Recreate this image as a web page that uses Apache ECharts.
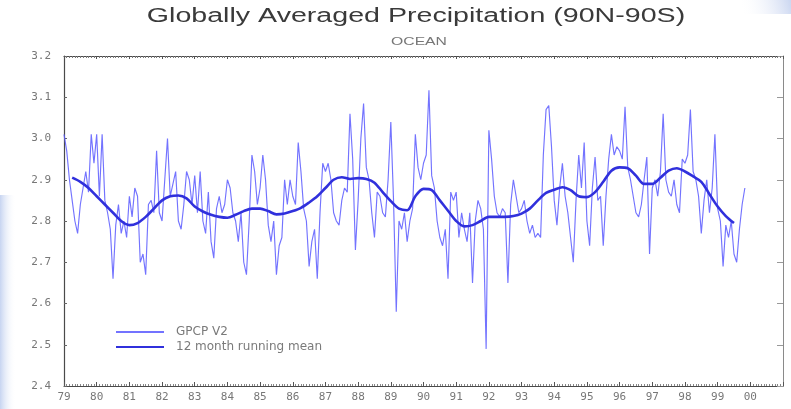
<!DOCTYPE html>
<html>
<head>
<meta charset="utf-8">
<script src="https://cdn.jsdelivr.net/npm/echarts@6/dist/echarts.min.js"></script>
<style>
html,body{margin:0;padding:0;background:#fff;}
#chart{width:791px;height:409px;}
</style>
</head>
<body>
<div id="chart"></div>
<script>
// ---- data ----
const titleText = 'Globally Averaged Precipitation (90N-90S)';
const subtitleText = 'OCEAN';
const seriesNames = ['GPCP V2', '12 month running mean'];

// x-axis tick labels (years)
const yearTicks = [1979,1980,1981,1982,1983,1984,1985,1986,1987,1988,1989,1990,1991,1992,1993,1994,1995,1996,1997,1998,1999,2000];
const yearLabels = ['79','80','81','82','83','84','85','86','87','88','89','90','91','92','93','94','95','96','97','98','99','00'];

// monthly GPCP V2 ocean precipitation (mm/day), starting Jan 1979
const rawStart = 1979;
const raw1979 = [3.01,2.97,2.90,2.85,2.80,2.77,2.84,2.88,2.92,2.87,3.01,2.94];
const raw1980 = [3.01,2.86,3.01,2.85,2.82,2.78,2.66,2.79,2.84,2.77,2.80,2.76];
const raw1981 = [2.86,2.81,2.88,2.86,2.70,2.72,2.67,2.84,2.85,2.82,2.97,2.82];
const raw1982 = [2.80,2.90,3.00,2.86,2.89,2.92,2.80,2.78,2.84,2.92,2.90,2.84];
const raw1983 = [2.91,2.82,2.92,2.80,2.77,2.87,2.75,2.71,2.83,2.86,2.82,2.84];
const raw1984 = [2.90,2.88,2.82,2.80,2.75,2.82,2.70,2.67,2.80,2.96,2.92,2.84];
const raw1985 = [2.88,2.96,2.90,2.79,2.75,2.80,2.67,2.74,2.76,2.90,2.84,2.90];
const raw1986 = [2.86,2.84,2.99,2.92,2.83,2.80,2.69,2.75,2.78,2.66,2.82,2.94];
const raw1987 = [2.92,2.94,2.90,2.82,2.80,2.79,2.85,2.88,2.87,3.06,2.95,2.73];
const raw1988 = [2.85,3.00,3.085,2.93,2.90,2.82,2.76,2.87,2.86,2.82,2.81,2.90];
const raw1989 = [3.04,2.85,2.58,2.80,2.78,2.82,2.75,2.80,2.83,3.01,2.93,2.90];
const raw1990 = [2.94,2.96,3.117,2.91,2.88,2.80,2.76,2.74,2.78,2.66,2.87,2.85];
const raw1991 = [2.87,2.76,2.82,2.78,2.75,2.82,2.65,2.80,2.85,2.83,2.78,2.49];
const raw1992 = [3.02,2.95,2.86,2.82,2.81,2.83,2.82,2.65,2.84,2.90,2.86,2.82];
const raw1993 = [2.83,2.85,2.80,2.77,2.79,2.76,2.77,2.76,2.96,3.07,3.08,2.98];
const raw1994 = [2.85,2.79,2.88,2.94,2.86,2.82,2.76,2.70,2.85,2.96,2.88,2.99];
const raw1995 = [2.80,2.74,2.88,2.955,2.85,2.86,2.74,2.86,2.95,3.01,2.96,2.98];
const raw1996 = [2.97,2.95,3.077,2.93,2.90,2.86,2.82,2.81,2.84,2.90,2.955,2.72];
const raw1997 = [2.88,2.90,2.86,2.92,3.06,2.90,2.87,2.86,2.90,2.84,2.82,2.95];
const raw1998 = [2.94,2.96,3.07,2.92,2.90,2.86,2.77,2.85,2.90,2.82,2.88,3.01];
const raw1999 = [2.83,2.80,2.69,2.79,2.76,2.80,2.72,2.70,2.78,2.84,2.88];

// 12-month running mean, read at quarterly steps starting Apr 1979
const meanStart = 1979.25;
const meanStep = 0.25;
const meanValues = [
 2.905,2.895,2.88,2.86,2.84,2.82,2.80,2.79,2.795,2.81,2.83,2.85,
 2.86,2.862,2.855,2.835,2.823,2.815,2.81,2.808,2.815,2.824,2.83,2.83,
 2.824,2.816,2.818,2.824,2.832,2.845,2.86,2.88,2.90,2.906,2.902,2.904,
 2.902,2.893,2.87,2.848,2.83,2.826,2.86,2.878,2.875,2.85,2.825,2.80,
 2.787,2.79,2.80,2.81,2.81,2.81,2.812,2.818,2.83,2.85,2.868,2.876,
 2.882,2.875,2.86,2.858,2.87,2.895,2.922,2.93,2.928,2.91,2.89,2.89,
 2.905,2.922,2.928,2.92,2.908,2.895,2.865,2.835,2.812,2.795
];

// ---- build series data ----
const rawValues = [].concat(raw1979,raw1980,raw1981,raw1982,raw1983,raw1984,raw1985,raw1986,
  raw1987,raw1988,raw1989,raw1990,raw1991,raw1992,raw1993,raw1994,raw1995,raw1996,raw1997,raw1998,raw1999);
const rawData = rawValues.map((v,i)=>[rawStart + i/12, v]);
const meanData = meanValues.map((v,i)=>[meanStart + i*meanStep, v]);

const labelMap = {};
yearTicks.forEach((y,i)=>{ labelMap[y] = yearLabels[i]; });

const chart = echarts.init(document.getElementById('chart'), null, {renderer:'canvas'});
const frameColor = '#4a4a4a';
const labelFont = 'DejaVu Sans Mono';

const option = {
  animation: false,
  backgroundColor: '#ffffff',
  graphic: [
    {type:'rect', left:0, top:195, z:-10, shape:{width:16, height:214},
     style:{fill:{type:'linear', x:0, y:0, x2:1, y2:0, colorStops:[
       {offset:0, color:'rgba(196,210,240,0.95)'}, {offset:1, color:'rgba(255,255,255,0)'}]}}},
    {type:'rect', right:0, top:0, z:-10, shape:{width:50, height:14},
     style:{fill:{type:'linear', x:0, y:1, x2:1, y2:0, colorStops:[
       {offset:0, color:'rgba(255,255,255,0)'}, {offset:1, color:'rgba(200,212,240,0.95)'}]}}},
    {type:'text', x:416, y:16, scaleX:1.43, scaleY:1,
     style:{text:titleText, font:'20px "Liberation Sans", Arial, sans-serif', fill:'#3a3a3a',
            textAlign:'center', textVerticalAlign:'middle', align:'center', verticalAlign:'middle'}},
    {type:'text', x:419, y:42, scaleX:1.43, scaleY:1,
     style:{text:subtitleText, font:'11px "Liberation Sans", Arial, sans-serif', fill:'#777',
            textAlign:'center', textVerticalAlign:'middle', align:'center', verticalAlign:'middle'}}
  ],
  grid: {left:64, right:8, top:56, bottom:23, containLabel:false},
  legend: {
    orient:'vertical', left:115, top:325, padding:0,
    itemWidth:48, itemHeight:8, itemGap:1,
    itemStyle:{opacity:0},
    textStyle:{fontFamily:'DejaVu Sans', fontSize:12, lineHeight:14, color:'#7a7a7a', padding:[0,0,0,7]},
    data: seriesNames
  },
  xAxis: [
    {type:'value', position:'bottom', min:1979, max:2001, interval:1,
     axisLine:{show:true, lineStyle:{color:frameColor, width:1.2}},
     axisTick:{show:true, inside:true, length:4, lineStyle:{color:'#555'}},
     minorTick:{show:true, splitNumber:12, length:2, lineStyle:{color:'#888'}},
     axisLabel:{show:true, margin:6, fontFamily:labelFont, fontSize:11, color:'#777',
                showMaxLabel:false, formatter:(v)=> labelMap[v] !== undefined ? labelMap[v] : ''},
     splitLine:{show:false}},
    {type:'value', position:'top', min:1979, max:2001, interval:1,
     axisLine:{show:true, lineStyle:{color:frameColor, width:1.2}},
     axisTick:{show:true, inside:true, length:3, lineStyle:{color:'#555'}},
     minorTick:{show:true, splitNumber:12, length:2, lineStyle:{color:'#777'}},
     axisLabel:{show:false}, splitLine:{show:false}}
  ],
  yAxis: [
    {type:'value', position:'left', min:2.4, max:3.2, interval:0.1,
     axisLine:{show:true, lineStyle:{color:frameColor, width:1.2}},
     axisTick:{show:true, inside:true, length:3, lineStyle:{color:'#666'}},
     axisLabel:{show:true, margin:13, fontFamily:labelFont, fontSize:11, color:'#777',
                formatter:(v)=>v.toFixed(1)},
     splitLine:{show:false}},
    {type:'value', position:'right', min:2.4, max:3.2, interval:0.1,
     axisLine:{show:true, lineStyle:{color:'#8a8a8a', width:1}},
     axisTick:{show:true, inside:true, length:6, lineStyle:{color:'#999'}},
     axisLabel:{show:false}, splitLine:{show:false}}
  ],
  series: [
    {name:seriesNames[0], type:'line', xAxisIndex:0, yAxisIndex:0, data:rawData,
     symbol:'none', smooth:false,
     lineStyle:{color:'rgba(90,90,255,0.85)', width:1.15},
     itemStyle:{color:'rgba(90,90,255,0.85)'}, z:2},
    {name:seriesNames[1], type:'line', xAxisIndex:0, yAxisIndex:0, data:meanData,
     symbol:'none', smooth:0.3,
     lineStyle:{color:'#3030dc', width:2.6},
     itemStyle:{color:'#3030dc'}, z:3}
  ]
};
chart.setOption(option);
</script>
</body>
</html>
